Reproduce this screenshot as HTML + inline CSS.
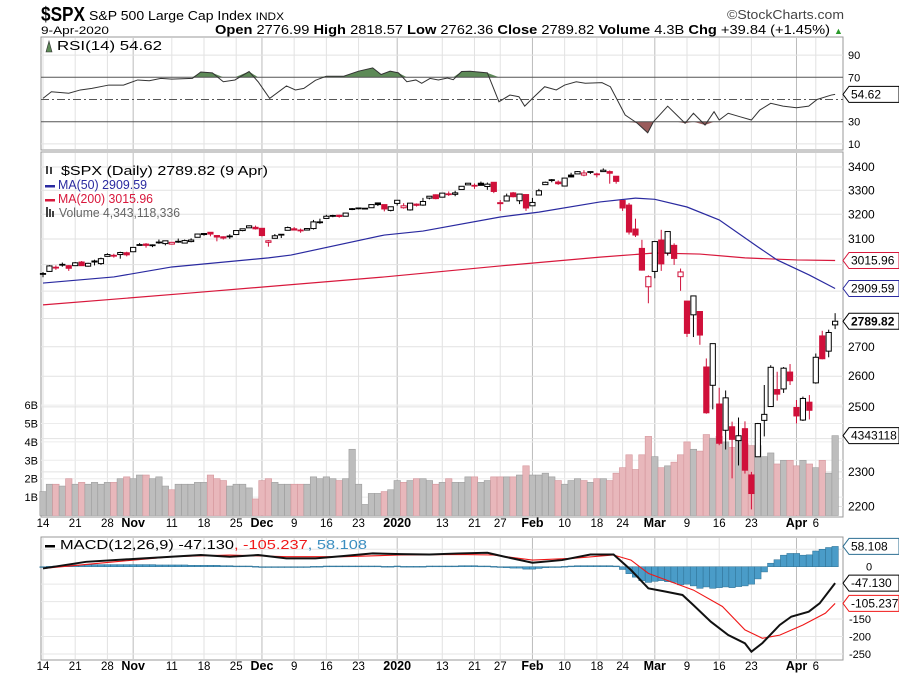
<!DOCTYPE html>
<html><head><meta charset="utf-8"><style>
html,body{margin:0;padding:0;background:#fff;}
svg{display:block;font-family:"Liberation Sans",sans-serif;}
</style></head><body>
<svg id="chart" width="899" height="679" viewBox="0 0 899 679" xmlns="http://www.w3.org/2000/svg">
<text x="41" y="21" font-size="20" font-weight="bold" textLength="44" lengthAdjust="spacingAndGlyphs">$SPX</text>
<text x="89" y="20" font-size="13" textLength="195" lengthAdjust="spacingAndGlyphs">S&amp;P 500 Large Cap Index <tspan font-size="11">INDX</tspan></text>
<text x="727" y="19" font-size="13" textLength="117" lengthAdjust="spacingAndGlyphs" fill="#444">©StockCharts.com</text>
<text x="41" y="34" font-size="11" textLength="68" lengthAdjust="spacingAndGlyphs">9-Apr-2020</text>
<text x="215" y="34" font-size="12.5" textLength="615" lengthAdjust="spacingAndGlyphs"><tspan font-weight="bold">Open</tspan> 2776.99 <tspan font-weight="bold">High</tspan> 2818.57 <tspan font-weight="bold">Low</tspan> 2762.36 <tspan font-weight="bold">Close</tspan> 2789.82 <tspan font-weight="bold">Volume</tspan> 4.3B <tspan font-weight="bold">Chg</tspan> +39.84 (+1.45%)</text>
<text x="834" y="34" font-size="9" fill="#2a9a2a">▲</text>
<g id="g"></g>
</svg>
<script>
// ---- data ----
const monthLabels = ["14","21","28","Nov","11","18","25","Dec","9","16","23","2020","13","21","27","Feb","10","18","24","Mar","9","16","23","Apr","6"];
const monthLabelIdx = [0,5,10,14,20,25,30,34,39,44,49,55,62,67,71,76,81,86,90,95,100,105,110,117,120];
const monthBold = [0,0,0,1,0,0,0,1,0,0,0,1,0,0,0,1,0,0,0,1,0,0,0,1,0];
const opens = [2965,2974,2990,3001,2996,2996,3010,2994,3014,3004,3032,3036,3039,3046,
3050,3078,3080,3075,3088,3082,3080,3089,3084,3090,3107,3118,3127,3114,3109,3112,3118,3134,3145,3147,
3143,3087,3103,3119,3135,3141,3136,3136,3142,3167,3183,3195,3196,3192,3223,3226,3225,3227,3247,3240,3216,
3245,3227,3218,3242,3238,3267,3281,3271,3285,3283,3303,3323,3321,3330,3316,3334,3248,3255,3289,3256,3282,
3235,3280,3324,3344,3335,3318,3365,3370,3365,3378,3369,3380,3380,3360,3257,3238,3140,3063,2916,
2974,3096,3045,3075,2954,2863,2813,2825,2631,2570,2509,2426,2437,2394,2431,2291,2345,2457,2501,2556,2558,2614,
2498,2458,2515,2578,2738,2685,2777];
const highs = [2972,2998,2997,3008,2998,3010,3014,3007,3019,3027,3044,3042,3050,3050,
3067,3084,3084,3079,3098,3093,3088,3102,3098,3103,3121,3124,3128,3114,3111,3119,3134,3142,3155,3154,
3144,3096,3120,3120,3150,3148,3142,3144,3177,3182,3198,3198,3198,3206,3226,3228,3226,3240,3247,3240,3232,
3259,3246,3247,3245,3268,3276,3283,3288,3295,3298,3317,3330,3329,3337,3333,3334,3259,3286,3293,3285,3282,
3268,3306,3337,3348,3342,3352,3375,3382,3386,3381,3375,3394,3385,3361,3259,3247,3182,3097,2959,
3091,3137,3130,3083,2985,2863,2883,2825,2660,2711,2562,2553,2453,2466,2454,2300,2449,2571,2637,2615,2631,2641,
2522,2533,2538,2677,2756,2760,2819];
const lows = [2952,2973,2980,2992,2976,2995,2995,2992,2997,2999,3031,3027,3023,3032,
3050,3074,3066,3068,3081,3075,3078,3085,3083,3087,3107,3113,3111,3091,3098,3101,3118,3131,3145,3138,
3110,3070,3103,3104,3135,3135,3125,3136,3138,3161,3183,3188,3186,3192,3217,3220,3220,3227,3234,3212,3212,
3236,3223,3215,3232,3235,3262,3262,3270,3276,3275,3303,3323,3306,3321,3302,3288,3214,3256,3270,3242,3214,
3235,3280,3324,3334,3323,3316,3355,3370,3360,3370,3355,3380,3328,3328,3214,3118,3108,2977,2855,
2948,2976,3035,2999,2901,2734,2734,2707,2478,2492,2380,2367,2281,2319,2295,2192,2345,2407,2500,2520,2545,2571,
2447,2455,2460,2575,2657,2664,2762];
const closes = [2966,2995,2990,2998,2986,3007,2996,3005,3010,3023,3039,3036,3047,3038,
3067,3078,3075,3077,3085,3093,3087,3091,3094,3096,3120,3122,3120,3108,3104,3110,3134,3141,3153,3141,
3114,3093,3113,3117,3146,3136,3133,3142,3169,3169,3192,3192,3191,3205,3221,3224,3224,3240,3240,3222,3231,
3258,3235,3246,3237,3253,3275,3265,3288,3283,3289,3317,3330,3321,3321,3326,3295,3244,3276,3273,3284,3226,
3249,3298,3334,3345,3328,3352,3357,3380,3374,3380,3370,3386,3373,3338,3226,3128,3116,2979,2954,
3090,3003,3130,3024,2972,2747,2882,2741,2481,2711,2386,2529,2398,2409,2305,2237,2447,2476,2630,2541,2627,2585,
2471,2527,2489,2664,2659,2750,2790];
const volumes = [1.3,1.7,1.7,1.6,2.0,1.7,1.8,1.7,1.8,1.7,1.8,1.8,2.0,2.1,
2.0,2.2,2.2,2.0,2.1,1.6,1.4,1.7,1.7,1.7,1.8,1.8,2.2,2.0,1.9,1.6,1.7,1.7,1.5,0.9,
1.9,2.0,1.8,1.7,1.7,1.7,1.7,1.7,2.1,2.0,2.1,2.0,1.9,2.0,3.6,1.7,0.6,1.2,1.2,1.3,1.4,
1.9,1.8,1.9,2.0,2.0,1.9,1.7,1.8,2.0,1.8,1.8,2.1,2.1,1.8,1.9,2.1,2.1,2.1,2.1,2.2,2.7,
2.2,2.2,2.3,2.1,1.9,1.7,1.9,2.0,1.9,1.8,2.0,2.0,1.9,2.3,2.6,3.3,2.5,3.3,4.3,
3.2,2.6,2.7,2.9,3.3,4.0,3.6,3.5,4.4,4.2,4.3,4.0,3.7,4.1,3.9,3.8,3.8,3.2,3.4,2.8,3.0,3.0,
2.7,3.0,2.8,2.6,3.0,2.3,4.34];
const ma50Idx = [0,11,20,35,38.5,53,59,71,77,86.5,92,95,100,105,111,114,119,123];
const ma50Val = [2930,2953,2991,3026,3037,3116,3132,3189,3209,3251,3267,3262,3230,3177,3069,3018,2960,2909.59];
const ma200Idx = [0,23,53,71,86.5,95,102,109,117,123];
const ma200Val = [2849,2893,2953,2995,3029,3045,3041,3026,3018,3015.96];
const rsiIdx = [0,1.3,4,5.8,7.6,10.2,12.5,14.7,16.5,18.3,20,23.2,24.5,26.3,28,29.8,32,33.4,35.2,37.8,39.2,40.5,42.3,44,46.7,49,51.2,52.5,53.9,55.2,56.5,57.9,58.8,60.1,61.4,62.8,63.7,65,66.3,69,70.8,72.5,73.9,74.8,76,77.9,79.7,81,82.8,84.2,86.8,88.1,90.4,92.2,93.9,94.8,97,98.4,99.7,101,102.8,104.2,105,106.4,108.2,110,111.3,113,114.9,117,118.9,120.2,122.4,123];
const rsiVal = [51,57,55.6,58.6,60,63,63,67.6,66.9,69,68.4,69,74.8,74,66,67.6,75.2,66,51,62.2,58.6,60,67.3,71,71,75.5,78.5,72.5,75.5,74,66,67.6,64.6,69,67.6,69.4,67.8,75.2,75.5,74,48,54,52.5,44,51,61.5,58.6,63,66,64.6,65.2,61.5,36,29,20,30,44,36,28.6,37.6,27,39,31.5,37.6,34.5,31.5,40.5,46.6,44,42.6,44,50,54,54.62];
const macdIdx = [0,6.7,15.6,24.5,29,33.4,37.8,42.3,46.7,51.2,55.6,60,64.5,69,71.7,76,80.6,85,88.6,91.3,94,96.6,99.3,101,103.7,106.4,109,110,111.7,114.4,116.2,118.9,120.6,123];
const macdVal = [-5,14,24,33.5,28.6,33.5,24,24,30.6,38,36,35,38,40,28.6,11.5,19,35,35,-9.5,-62,-71,-81,-110,-157.6,-195.7,-219.6,-243.6,-219,-167,-143,-129,-105,-47.13];
const sigIdx = [0,11.1,20,29,37.8,46.7,55.6,64.5,69.9,76,82.3,88.6,91.3,94,97.5,101,105.5,109,111.7,114.4,118,121.5,123];
const sigVal = [-5,14,28.6,33.5,28.6,28.6,33.5,35,33.5,19,24,33.5,19,-19,-43,-67,-114,-181,-205,-196,-167,-133,-105.237];
const hist = [0,1,2,3,4,5,5,6,6,6,6,6,6,6,
6,6,6,6,5,5,5,5,5,4,4,4,4,4,3,3,2,2,2,1,
-1,-2,-2,-2,-1,-1,-1,0,1,1,2,2,2,2,2,2,2,2,2,1,1,
2,1,1,1,1,2,2,2,2,2,3,3,3,2,2,1,-2,-3,-4,-4,-7,
-7,-5,-3,-1,0,1,2,3,3,3,3,3,3,2,-8,-20,-30,-40,-45,
-42,-40,-43,-45,-52,-50,-55,-62,-58,-62,-60,-58,-60,-57,-55,-50,-35,-15,10,20,33,38,
38,33,34,45,50,55,58.108];
const priceTicks = [3400,3300,3200,3100,3000,2900,2800,2700,2600,2500,2400,2300,2200];
const priceTickLabels = ["3400","3300","3200","3100","","","","2700","2600","2500","","2300","2200"];
const volTicks = [1,2,3,4,5,6];
const rsiTicks = [90,70,30,10];
const macdTicks = [0,-150,-200,-250];

// ---- scales ----
const L = 41, R = 843;
const x = i => 43 + i * 6.44;
const py = p => 167 + (Math.log(3400) - Math.log(p)) * 780;
const vy = v => 515.5 - v * 18.4;
const ry = r => 77.3 + (70 - r) * 1.11;
const my = m => 566.7 - m * 0.349;

const NS = "http://www.w3.org/2000/svg";
const G = document.getElementById("g");
function mk(tag, attrs, parent) {
  const e = document.createElementNS(NS, tag);
  for (const k in attrs) e.setAttribute(k, attrs[k]);
  (parent || G).appendChild(e);
  return e;
}
function grp(name) {
  const e = mk("g", {});
  
  
  return e;
}

// panels
const panels = [[37, 150, "rsi-panel"], [152, 517, "price-panel"], [537, 660, "macd-panel"]];
const gPanels = grp("panel-frames");
panels.forEach(p => {
  const r = mk("rect", {x: L, y: p[0], width: R - L, height: p[1] - p[0], fill: "#fff", stroke: "#999", "stroke-width": 1}, gPanels);
  
  
});

// vertical grid
const gGrid = grp("grid-lines");
monthLabelIdx.forEach((idx, k) => {
  const col = monthBold[k] ? "#bbb" : "#e2e2e2";
  panels.forEach(p => {
    const l = mk("line", {x1: x(idx), x2: x(idx), y1: p[0] + 1, y2: p[1] - 1, stroke: col, "stroke-width": 1}, gGrid);
    
    
  });
});
priceTicks.forEach(t => {
  const l = mk("line", {x1: L, x2: R, y1: py(t), y2: py(t), stroke: "#e2e2e2"}, gGrid);
  
  
});
volTicks.forEach(t => {
  const l = mk("line", {x1: L, x2: R, y1: vy(t), y2: vy(t), stroke: "#ececec"}, gGrid);
  
  
});
[90, 10].forEach(t => {
  const l = mk("line", {x1: L, x2: R, y1: ry(t), y2: ry(t), stroke: "#e2e2e2"}, gGrid);
  
  
});
[50, -50, -100, -150, -200, -250].forEach(t => {
  const l = mk("line", {x1: L, x2: R, y1: my(t), y2: my(t), stroke: "#e6e6e6"}, gGrid);
  
  
});

// RSI
const gRsi = grp("rsi-series");
let above = "", below = "";
rsiIdx.forEach((idx, k) => {
  const xx = x(idx);
  above += (k ? "L" : "M") + xx + "," + ry(Math.max(rsiVal[k], 70));
  below += (k ? "L" : "M") + xx + "," + ry(Math.min(rsiVal[k], 30));
});
above += "L" + x(rsiIdx[rsiIdx.length - 1]) + "," + ry(70) + "L" + x(0) + "," + ry(70) + "Z";
below += "L" + x(rsiIdx[rsiIdx.length - 1]) + "," + ry(30) + "L" + x(0) + "," + ry(30) + "Z";
const fa = mk("path", {d: above, fill: "#5d8a57"}, gRsi);


const fb = mk("path", {d: below, fill: "#9a5c5c"}, gRsi);


[70, 30].forEach(t => {
  const l = mk("line", {x1: L, x2: R, y1: ry(t), y2: ry(t), stroke: "#555"}, gRsi);
  
  
});
const mid = mk("line", {x1: L, x2: R, y1: ry(50), y2: ry(50), stroke: "#555", "stroke-dasharray": "8,3,2,3"}, gRsi);


const rsiLine = mk("path", {d: rsiIdx.map((idx, k) => (k ? "L" : "M") + x(idx) + "," + ry(rsiVal[k])).join(""), fill: "none", stroke: "#333", "stroke-width": 1}, gRsi);



// Volume bars
const gVol = grp("volume-bars");
volumes.forEach((v, i) => {
  const down = i > 0 && closes[i] < closes[i - 1];
  const b = mk("rect", {x: x(i) - 3.2, y: vy(v), width: 6.44, height: 515.5 - vy(v), fill: down ? "#e8b7bb" : "#bdbdbd", stroke: down ? "#d4959b" : "#9c9c9c", "stroke-width": 0.6}, gVol);
  
  
});

// MAs
function linePath(idxArr, valArr, yf) {
  return idxArr.map((idx, k) => (k ? "L" : "M") + x(idx) + "," + yf(valArr[k])).join("");
}
const m200 = mk("path", {d: linePath(ma200Idx, ma200Val, py), fill: "none", stroke: "#d8183c", "stroke-width": 1.2}, G);


const m50 = mk("path", {d: linePath(ma50Idx, ma50Val, py), fill: "none", stroke: "#2a2aa0", "stroke-width": 1.2}, G);



// Candles
const gC = grp("candlesticks");
closes.forEach((c, i) => {
  const o = opens[i];
  const col = (i > 0 && c < closes[i - 1]) ? "#d0103a" : "#000";
  const filled = c < o;
  const xx = x(i);
  const w = mk("line", {x1: xx, x2: xx, y1: py(highs[i]), y2: py(lows[i]), stroke: col, "stroke-width": 1}, gC);
  
  
  const top = py(Math.max(o, c)), bot = py(Math.min(o, c));
  const b = mk("rect", {x: xx - 2.6, y: top, width: 5.2, height: Math.max(bot - top, 0.8), fill: filled ? col : "#fff", stroke: col, "stroke-width": 1}, gC);
  
  
});

// MACD
const gM = grp("macd-series");
hist.forEach((h, i) => {
  const y0 = my(0), y1 = my(h);
  const b = mk("rect", {x: x(i) - 3.2, y: Math.min(y0, y1), width: 6.44, height: Math.max(Math.abs(y1 - y0), 0.8), fill: "#4a9cc8", stroke: "#2d6f92", "stroke-width": 0.5}, gM);
  
  
});
const sl = mk("path", {d: linePath(sigIdx, sigVal, my), fill: "none", stroke: "#f01818", "stroke-width": 1.1}, gM);


const ml = mk("path", {d: linePath(macdIdx, macdVal, my), fill: "none", stroke: "#111", "stroke-width": 2}, gM);



// Axis labels
const gA = grp("axis-labels");
function txt(s, xx, yy, opts, name) {
  const t = mk("text", Object.assign({x: xx, y: yy, "font-size": 11}, opts || {}), gA);
  t.textContent = s;
  
  
  return t;
}
priceTicks.forEach((t, k) => { if (priceTickLabels[k]) txt(priceTickLabels[k], 848, py(t) + 4, {"font-size": 12}, 'price-tick-label'); });
volTicks.forEach(t => txt(t + "B", 38, vy(t) + 4, {"text-anchor": "end"}, 'volume-tick-label'));
rsiTicks.forEach(t => txt(String(t), 848, ry(t) + 4, {}, 'rsi-tick-label'));
macdTicks.forEach(t => txt(String(t), t === 0 ? 866 : 849, my(t) + 4, {}, 'macd-tick-label'));
[527, 670].forEach(yy => monthLabels.forEach((s, k) => {
  txt(s, x(monthLabelIdx[k]), yy, {"text-anchor": "middle", "font-weight": monthBold[k] ? "bold" : "normal", "font-size": monthBold[k] ? 12.5 : 11.5}, 'date-axis-label');
}));

function tag(val, yy, col, bold, name) {
  const p = mk("path", {d: `M843,${yy} L849,${yy - 8} L899,${yy - 8} L899,${yy + 8} L849,${yy + 8} Z`, fill: "#fff", stroke: col, "stroke-width": 1}, gA);
  
  
  txt(val, 851, yy + 4, {"font-weight": bold ? "bold" : "normal", "font-size": 12}, name);
}
tag("3015.96", py(3015.96), "#d8183c", false, 'ma200-value-tag');
tag("2909.59", py(2909.59), "#2a2aa0", false, 'ma50-value-tag');
tag("2789.82", py(2789.82), "#000", true, 'close-value-tag');
tag("4343118", vy(4.34), "#000", false, 'volume-value-tag');
tag("54.62", ry(54.62), "#000", false, 'rsi-value-tag');
tag("58.108", my(58.108), "#2d6f92", false, 'histogram-value-tag');
tag("-47.130", my(-47.13), "#000", false, 'macd-value-tag');
tag("-105.237", my(-105.237), "#f01818", false, 'signal-value-tag');

// legends
const gL = grp("legends");
function leg(s, xx, yy, col, len, name) {
  const t = mk("text", {x: xx, y: yy, "font-size": 12.5, fill: col, textLength: len, lengthAdjust: "spacingAndGlyphs"}, gL);
  t.textContent = s;
  
  
}
leg("RSI(14) 54.62", 57, 50, "#000", 105, 'rsi-legend');
leg("$SPX (Daily) 2789.82 (9 Apr)", 61, 175, "#000", 207, 'price-legend');
leg("MA(50) 2909.59", 58, 189, "#2a2aa0", 89, 'ma50-legend');
leg("MA(200) 3015.96", 58, 203, "#d8183c", 95, 'ma200-legend');
leg("Volume 4,343,118,336", 59, 217, "#666", 121, 'volume-legend');
const ml2 = mk("text", {x: 60, y: 549, "font-size": 13, textLength: 307, lengthAdjust: "spacingAndGlyphs"}, gL);
ml2.innerHTML = 'MACD(12,26,9) -47.130<tspan fill="#f01818">, -105.237</tspan><tspan fill="#3a8dc0">, 58.108</tspan>';


[[45, 185, "#2a2aa0"], [45, 199, "#d8183c"], [45, 545, "#000"]].forEach(s => {
  const r = mk("rect", {x: s[0], y: s[1], width: 10, height: 2.5, fill: s[2]}, gL);
  
  
});
const ic = mk("path", {d: "M46,52 L49,41 L52,52 Z", fill: "#5d8a57", stroke: "#333", "stroke-width": 0.6}, gL);


[[46, 166, 8], [50, 167, 7], [46, 207, 10], [49, 209, 8], [52, 211, 6]].forEach(s => {
  const r = mk("rect", {x: s[0], y: s[1], width: 2, height: s[2], fill: "#444"}, gL);
  
  
});
</script>
</body></html>
